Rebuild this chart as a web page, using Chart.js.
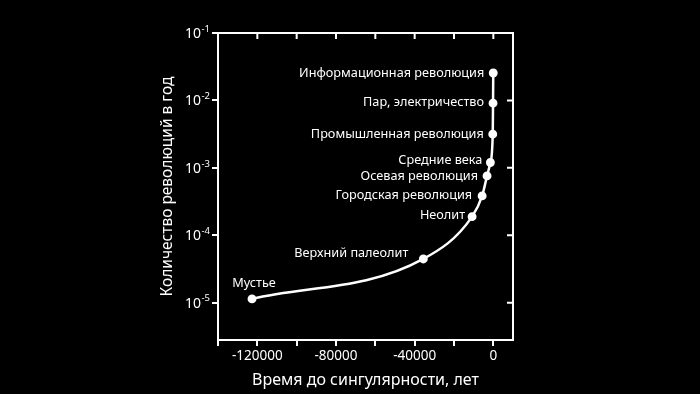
<!DOCTYPE html>
<html>
<head>
<meta charset="utf-8">
<script src="https://cdn.jsdelivr.net/npm/chart.js@4"></script>
<style>
  html, body { margin: 0; padding: 0; background: #000; }
  canvas { display: block; }
</style>
</head>
<body>
<canvas id="chart" width="700" height="394"></canvas>
<script>
// Данные: революции и их частота
const eventNames = [
  'Мустье',
  'Верхний палеолит',
  'Неолит',
  'Городская революция',
  'Осевая революция',
  'Средние века',
  'Промышленная революция',
  'Пар, электричество',
  'Информационная революция'
];
const yearsToSingularity = [-122700, -35600, -10800, -5700, -3200, -1500, -300, -150, -40];
const revolutionsPerYear = [1.14e-5, 4.46e-5, 1.89e-4, 3.84e-4, 7.6e-4, 1.2e-3, 3.16e-3, 9.1e-3, 2.55e-2];

// Деления осей
const xTickValues = [-140000, -120000, -100000, -80000, -60000, -40000, -20000, 0];
const xTickLabels = ['', '-120000', '', '-80000', '', '-40000', '', '0'];
const yTickValues = [1e-5, 1e-4, 1e-3, 1e-2, 1e-1];
const yTickExponents = ['-5', '-4', '-3', '-2', '-1'];

// Размещение подписей рядом с точками
const labelPlacement = [
  { align: 'center', dx: 2, dy: -16 },
  { align: 'right', dx: -15, dy: -6 },
  { align: 'right', dx: -7, dy: -1 },
  { align: 'right', dx: -10, dy: -1 },
  { align: 'right', dx: -9, dy: 0 },
  { align: 'right', dx: -8, dy: -2 },
  { align: 'right', dx: -9, dy: 0 },
  { align: 'right', dx: -9, dy: -1 },
  { align: 'right', dx: -9, dy: 0 }
];

const FONT = '"Noto Sans", "DejaVu Sans", sans-serif';

const labelPlugin = {
  id: 'eventLabels',
  afterDatasetsDraw(chart) {
    const ctx = chart.ctx;
    const pts = chart.getDatasetMeta(0).data;
    ctx.save();
    ctx.font = '12.7px ' + FONT;
    ctx.fillStyle = '#fff';
    ctx.textBaseline = 'middle';
    pts.forEach((p, i) => {
      const pl = labelPlacement[i];
      ctx.textAlign = pl.align;
      ctx.fillText(eventNames[i], p.x + pl.dx, p.y + pl.dy);
    });
    ctx.restore();
  }
};

// Подписи логарифмической оси: 10 со степенью
const powerLabelPlugin = {
  id: 'powerLabels',
  afterDraw(chart) {
    const { ctx, scales } = chart;
    const right = scales.y.right - 8;
    ctx.save();
    ctx.fillStyle = '#fff';
    ctx.textBaseline = 'middle';
    ctx.textAlign = 'left';
    yTickValues.forEach((v, i) => {
      const y = scales.y.getPixelForValue(v);
      ctx.font = '9.5px ' + FONT;
      const expW = ctx.measureText(yTickExponents[i]).width;
      ctx.font = '14px ' + FONT;
      const baseW = ctx.measureText('10').width;
      const x0 = right - expW - baseW - 0.5;
      ctx.fillText('10', x0, y + 1);
      ctx.font = '9.5px ' + FONT;
      ctx.fillText(yTickExponents[i], x0 + baseW + 0.5, y - 4);
    });
    ctx.restore();
  }
};

// Рамка сверху и справа с внутренними делениями
const framePlugin = {
  id: 'frame',
  afterDraw(chart) {
    const { ctx, chartArea: a, scales } = chart;
    ctx.save();
    ctx.strokeStyle = '#fff';
    ctx.lineWidth = 2;
    ctx.beginPath();
    ctx.moveTo(a.left, a.top);
    ctx.lineTo(a.right, a.top);
    ctx.lineTo(a.right, a.bottom);
    xTickValues.forEach(v => {
      const x = scales.x.getPixelForValue(v);
      ctx.moveTo(x, a.top);
      ctx.lineTo(x, a.top + 6);
    });
    yTickValues.forEach(v => {
      const y = scales.y.getPixelForValue(v);
      ctx.moveTo(a.right, y);
      ctx.lineTo(a.right - 6, y);
    });
    ctx.stroke();
    ctx.restore();
  }
};

new Chart(document.getElementById('chart'), {
  type: 'line',
  data: {
    datasets: [{
      data: yearsToSingularity.map((x, i) => ({ x: x, y: revolutionsPerYear[i] })),
      borderColor: '#fff',
      backgroundColor: '#fff',
      borderWidth: 2.5,
      pointRadius: 3.2,
      pointHoverRadius: 3.2,
      cubicInterpolationMode: 'monotone',
      fill: false
    }]
  },
  options: {
    responsive: false,
    animation: false,
    layout: { padding: { left: 158, right: 187, top: 33, bottom: 4 } },
    plugins: {
      legend: { display: false },
      tooltip: { enabled: false }
    },
    scales: {
      x: {
        type: 'linear',
        min: -140000,
        max: 10000,
        afterBuildTicks: s => { s.ticks = xTickValues.map(v => ({ value: v })); },
        afterFit: s => { s.height = 50; },
        grid: { drawOnChartArea: false, color: '#fff', lineWidth: 2, tickLength: 6 },
        border: { color: '#fff', width: 2 },
        ticks: {
          color: '#fff',
          font: { family: FONT, size: 13.5 },
          padding: 2,
          maxRotation: 0,
          autoSkip: false,
          callback: v => xTickLabels[xTickValues.indexOf(v)]
        },
        title: {
          display: true,
          text: 'Время до сингулярности, лет',
          color: '#fff',
          font: { family: FONT, size: 16 },
          padding: 0
        }
      },
      y: {
        type: 'logarithmic',
        min: 2.8e-6,
        max: 0.1,
        afterBuildTicks: s => { s.ticks = yTickValues.map(v => ({ value: v })); },
        afterFit: s => { s.width = 60; },
        grid: { drawOnChartArea: false, color: '#fff', lineWidth: 2, tickLength: 6 },
        border: { color: '#fff', width: 2 },
        ticks: { display: false },
        title: {
          display: true,
          text: 'Количество революций в год',
          color: '#fff',
          font: { family: FONT, size: 15.5 },
          padding: 0
        }
      }
    }
  },
  plugins: [labelPlugin, powerLabelPlugin, framePlugin]
});
</script>
</body>
</html>
